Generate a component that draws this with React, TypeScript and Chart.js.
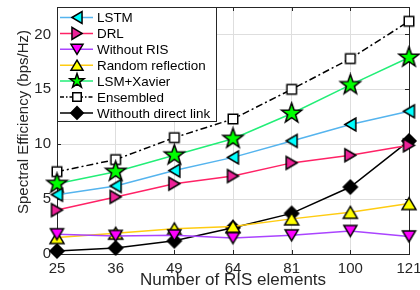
import React, { useEffect, useRef } from 'react';
import { Chart, registerables } from 'chart.js';

Chart.register(...registerables);

const categories = ['25', '36', '49', '64', '81', '100', '121'];
const lstm = [5.4, 6.2, 7.6, 8.8, 10.3, 11.8, 13.0];
const drl = [4.0, 5.2, 6.4, 7.1, 8.3, 9.0, 9.9];
const withoutRis = [1.8, 1.65, 1.7, 1.45, 1.7, 2.1, 1.6];
const randomReflection = [1.5, 1.9, 2.3, 2.5, 3.2, 3.8, 4.6];
const lsmXavier = [6.4, 7.5, 9.0, 10.5, 12.8, 15.4, 17.9];
const ensembled = [7.5, 8.6, 10.6, 12.3, 15.0, 17.8, 21.2];
const withoutDirectLink = [0.27, 0.55, 1.2, 2.4, 3.7, 6.1, 10.3];
const seriesNames = ['LSTM', 'DRL', 'Without RIS', 'Random reflection', 'LSM+Xavier', 'Ensembled', 'Withouth direct link'];
const yTicks = [0, 5, 10, 15, 20];
const yMin = 0;
const yMax = 22.5;
const xTitle = 'Number of RIS elements';
const yTitle = 'Spectral Efficiency (bps/Hz)';

type Kind = 'triLeft' | 'triRight' | 'triDown' | 'triUp' | 'star' | 'square' | 'diamond';

function drawMarker(ctx: CanvasRenderingContext2D, kind: Kind, x: number, y: number, s: number, fill: string) {
  ctx.save();
  ctx.beginPath();
  const h = s / 2;
  const t = s * 0.42;
  switch (kind) {
    case 'triUp':
      ctx.moveTo(x, y - t); ctx.lineTo(x + h, y + t); ctx.lineTo(x - h, y + t); break;
    case 'triDown':
      ctx.moveTo(x, y + t); ctx.lineTo(x + h, y - t); ctx.lineTo(x - h, y - t); break;
    case 'triLeft':
      ctx.moveTo(x - t, y); ctx.lineTo(x + t, y - h); ctx.lineTo(x + t, y + h); break;
    case 'triRight':
      ctx.moveTo(x + t, y); ctx.lineTo(x - t, y - h); ctx.lineTo(x - t, y + h); break;
    case 'square':
      ctx.rect(x - h, y - h, s, s); break;
    case 'diamond':
      ctx.moveTo(x, y - h); ctx.lineTo(x + h, y); ctx.lineTo(x, y + h); ctx.lineTo(x - h, y); break;
    case 'star':
      for (let i = 0; i < 10; i++) {
        const r = i % 2 ? h * 0.4 : h;
        const a = -Math.PI / 2 + (i * Math.PI) / 5;
        const px = x + r * Math.cos(a);
        const py = y + r * Math.sin(a);
        if (i === 0) ctx.moveTo(px, py); else ctx.lineTo(px, py);
      }
      break;
  }
  ctx.closePath();
  ctx.fillStyle = fill;
  ctx.fill();
  ctx.lineWidth = 1.5;
  ctx.lineJoin = 'miter';
  ctx.strokeStyle = '#000';
  ctx.stroke();
  ctx.restore();
}

function markerCanvas(kind: Kind, s: number, fill: string): HTMLCanvasElement {
  const c = document.createElement('canvas');
  const size = Math.ceil(s + 4);
  c.width = size;
  c.height = size;
  const ctx = c.getContext('2d')!;
  drawMarker(ctx, kind, size / 2, size / 2, s, fill);
  return c;
}

interface Style { line: string; fill: string; kind: Kind; plotSize: number; legendSize: number; dash: number[] }
const styles: Style[] = [
  { line: '#55b4ee', fill: '#00ffff', kind: 'triLeft', plotSize: 13, legendSize: 12, dash: [] },
  { line: '#ff2266', fill: '#ee2299', kind: 'triRight', plotSize: 13, legendSize: 12, dash: [] },
  { line: '#aa44ff', fill: '#ff00ff', kind: 'triDown', plotSize: 13, legendSize: 12, dash: [] },
  { line: '#ffcc11', fill: '#ffff00', kind: 'triUp', plotSize: 14, legendSize: 12, dash: [] },
  { line: '#22ee77', fill: '#00ff00', kind: 'star', plotSize: 21, legendSize: 15, dash: [] },
  { line: '#000000', fill: '#ffffff', kind: 'square', plotSize: 9.5, legendSize: 8.5, dash: [7, 3, 2, 3] },
  { line: '#000000', fill: '#000000', kind: 'diamond', plotSize: 14, legendSize: 12.5, dash: [] },
];
const seriesData = [lstm, drl, withoutRis, randomReflection, lsmXavier, ensembled, withoutDirectLink];

const FONT = '"Liberation Sans", Arial, Helvetica, sans-serif';
const AXIS_COLOR = '#262626';

const framePlugin = {
  id: 'matlabFrame',
  beforeDatasetsDraw(chart: any) {
    const { ctx, chartArea: a, scales } = chart;
    ctx.save();
    ctx.strokeStyle = AXIS_COLOR;
    ctx.lineWidth = 1;
    const tl = 4;
    ctx.beginPath();
    categories.forEach((_, i) => {
      const x = Math.round(scales.x.getPixelForValue(i)) + 0.5;
      ctx.moveTo(x, a.bottom); ctx.lineTo(x, a.bottom - tl);
      ctx.moveTo(x, a.top); ctx.lineTo(x, a.top + tl);
    });
    yTicks.forEach((v) => {
      const y = Math.round(scales.y.getPixelForValue(v)) + 0.5;
      ctx.moveTo(a.left, y); ctx.lineTo(a.left + tl, y);
      ctx.moveTo(a.right, y); ctx.lineTo(a.right - tl, y);
    });
    ctx.stroke();
    ctx.strokeRect(Math.round(a.left) + 0.5, Math.round(a.top) + 0.5, Math.round(a.right - a.left), Math.round(a.bottom - a.top));
    ctx.restore();
  },
  afterDraw(chart: any) {
    const { ctx, chartArea: a } = chart;
    ctx.save();
    ctx.fillStyle = AXIS_COLOR;
    ctx.font = `15px ${FONT}`;
    ctx.textAlign = 'center';
    ctx.textBaseline = 'middle';
    ctx.translate(24, 122);
    ctx.rotate(-Math.PI / 2);
    ctx.fillText(yTitle, 0, 0);
    ctx.restore();

    ctx.save();
    ctx.fillStyle = AXIS_COLOR;
    ctx.font = `17px ${FONT}`;
    ctx.textAlign = 'center';
    ctx.textBaseline = 'alphabetic';
    ctx.fillText(xTitle, (a.left + a.right) / 2, 285);
    ctx.restore();

    ctx.save();
    const lx = Math.round(a.left) + 0.5;
    const ly = Math.round(a.top) + 0.5;
    const lw = 159;
    const lh = 114;
    ctx.fillStyle = '#ffffff';
    ctx.fillRect(lx, ly, lw, lh);
    ctx.strokeStyle = AXIS_COLOR;
    ctx.lineWidth = 1;
    ctx.strokeRect(lx, ly, lw, lh);
    ctx.font = `13.4px ${FONT}`;
    ctx.textBaseline = 'middle';
    ctx.textAlign = 'left';
    seriesNames.forEach((name, i) => {
      const st = styles[i];
      const cy = a.top + 10.5 + i * 15.9;
      ctx.save();
      ctx.strokeStyle = st.line;
      ctx.lineWidth = 1.5;
      ctx.setLineDash(st.dash.length ? [4, 2, 1.5, 2] : []);
      ctx.beginPath();
      ctx.moveTo(a.left + 3, cy);
      ctx.lineTo(a.left + 36, cy);
      ctx.stroke();
      ctx.restore();
      drawMarker(ctx, st.kind, a.left + 20, cy, st.legendSize, st.fill);
      ctx.fillStyle = '#000';
      ctx.fillText(name, a.left + 40, cy + 1);
    });
    ctx.restore();
  },
};

export default function App() {
  const canvasRef = useRef<HTMLCanvasElement | null>(null);

  useEffect(() => {
    document.body.style.margin = '0';
    const canvas = canvasRef.current!;
    const datasets = seriesNames.map((name, i) => {
      const st = styles[i];
      const img = markerCanvas(st.kind, st.plotSize, st.fill);
      return {
        label: name,
        data: seriesData[i],
        borderColor: st.line,
        backgroundColor: st.fill,
        borderWidth: 1.5,
        borderDash: st.dash,
        pointStyle: img as any,
        pointRadius: 1,
        pointBorderWidth: 0,
        tension: 0,
        clip: false as any,
      };
    });
    const chart = new Chart(canvas, {
      type: 'line',
      data: { labels: categories, datasets },
      options: {
        responsive: false,
        animation: false,
        events: [],
        layout: { padding: { left: 0, right: 11, top: 7, bottom: 0 } },
        plugins: { legend: { display: false }, tooltip: { enabled: false } },
        scales: {
          x: {
            type: 'category',
            offset: false,
            grid: { color: '#dedede', lineWidth: 1, drawTicks: false },
            border: { display: false },
            ticks: { color: AXIS_COLOR, font: { family: FONT, size: 15 }, padding: 6, maxRotation: 0, autoSkip: false },
            afterFit: (s: any) => { s.height = 36; s.paddingLeft = 0; s.paddingRight = 0; },
          },
          y: {
            min: yMin,
            max: yMax,
            afterBuildTicks: (s: any) => { s.ticks = yTicks.map((v) => ({ value: v })); },
            grid: { color: '#dedede', lineWidth: 1, drawTicks: false },
            border: { display: false },
            ticks: { color: AXIS_COLOR, font: { family: FONT, size: 15 }, padding: 6 },
            afterFit: (s: any) => { s.width = 57; s.paddingTop = 0; s.paddingBottom = 0; },
          },
        },
      },
      plugins: [framePlugin],
    });
    return () => chart.destroy();
  }, []);

  return (
    <div style={{ width: 420, height: 290 }}>
      <canvas ref={canvasRef} width={420} height={290} style={{ display: 'block' }} />
    </div>
  );
}
